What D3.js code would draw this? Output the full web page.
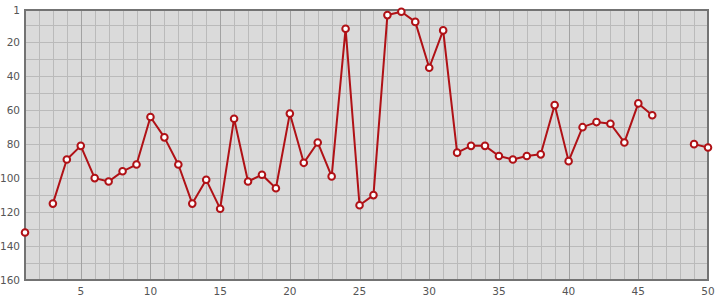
<!DOCTYPE html>
<html>
<head>
<meta charset="utf-8">
<script src="https://cdn.jsdelivr.net/npm/d3@7"></script>
<style>
  body { margin: 0; background: #fff; }
  text { font-family: "DejaVu Sans", Verdana, sans-serif; font-size: 10.5px; fill: #555; }
</style>
</head>
<body>
<svg id="chart" width="715" height="300"></svg>
<script>
// x positions 1..50, rank values (null = no value)
var days = d3.range(1, 51);
var ranks = [132, null, 115, 89, 81, 100, 102, 96, 92, 64,
             76, 92, 115, 101, 118, 65, 102, 98, 106, 62,
             91, 79, 99, 12, 116, 110, 4, 2, 8, 35,
             13, 85, 81, 81, 87, 89, 87, 86, 57, 90,
             70, 67, 68, 79, 56, 63, null, null, 80, 82];
var xTicks = [5, 10, 15, 20, 25, 30, 35, 40, 45, 50];
var yTicks = [1, 20, 40, 60, 80, 100, 120, 140, 160];

var svg = d3.select("#chart");
var plotL = 25, plotR = 708, plotT = 10, plotB = 280;

var x = d3.scaleLinear().domain([1, 50]).range([plotL, plotR]);
var y = d3.scaleLinear().domain([1, 160]).range([plotT, plotB]);

// background
svg.append("rect")
  .attr("x", plotL).attr("y", plotT)
  .attr("width", plotR - plotL).attr("height", plotB - plotT)
  .attr("fill", "#dadada");

// grid
svg.append("g").selectAll("line")
  .data(d3.range(10, 160, 10))
  .enter().append("line")
  .attr("x1", plotL).attr("x2", plotR)
  .attr("y1", function(d) { return Math.round(y(d)) + 0.5; })
  .attr("y2", function(d) { return Math.round(y(d)) + 0.5; })
  .attr("stroke", "#bababa").attr("stroke-width", 1);

svg.append("g").selectAll("line")
  .data(d3.range(2, 50))
  .enter().append("line")
  .attr("y1", plotT).attr("y2", plotB)
  .attr("x1", function(d) { return Math.round(x(d)) + 0.5; })
  .attr("x2", function(d) { return Math.round(x(d)) + 0.5; })
  .attr("stroke", function(d) { return d % 5 === 0 ? "#a2a2a2" : "#bababa"; })
  .attr("stroke-width", 1);

// frame
svg.append("rect")
  .attr("x", plotL).attr("y", plotT)
  .attr("width", plotR - plotL).attr("height", plotB - plotT)
  .attr("fill", "none").attr("stroke", "#737373").attr("stroke-width", 2);

// labels
svg.append("g").selectAll("text")
  .data(yTicks)
  .enter().append("text")
  .attr("x", 20)
  .attr("y", function(d) { return y(d) + 4; })
  .attr("text-anchor", "end")
  .text(function(d) { return d; });

svg.append("g").selectAll("text")
  .data(xTicks)
  .enter().append("text")
  .attr("x", function(d) { return x(d); })
  .attr("y", 295)
  .attr("text-anchor", "middle")
  .text(function(d) { return d; });

// line + markers
var pts = days.map(function(d, i) { return [d, ranks[i]]; });

var line = d3.line()
  .defined(function(d) { return d[1] !== null; })
  .x(function(d) { return x(d[0]); })
  .y(function(d) { return y(d[1]); });

svg.append("path")
  .datum(pts)
  .attr("d", line)
  .attr("fill", "none")
  .attr("stroke", "#b01116")
  .attr("stroke-width", 2)
  .attr("stroke-linejoin", "round");

svg.append("g").selectAll("circle")
  .data(pts.filter(function(d) { return d[1] !== null; }))
  .enter().append("circle")
  .attr("cx", function(d) { return x(d[0]); })
  .attr("cy", function(d) { return y(d[1]); })
  .attr("r", 3.3)
  .attr("fill", "#fff")
  .attr("stroke", "#b01116")
  .attr("stroke-width", 2);
</script>
</body>
</html>
